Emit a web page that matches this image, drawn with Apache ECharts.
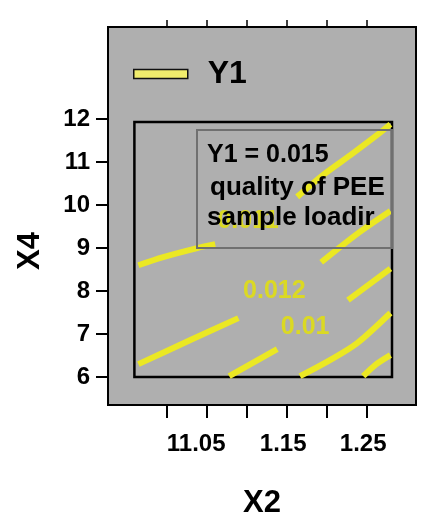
<!DOCTYPE html>
<html>
<head>
<meta charset="utf-8">
<script src="https://cdn.jsdelivr.net/npm/echarts@6/dist/echarts.min.js"></script>
<style>
  html, body { margin: 0; padding: 0; background: #fff; }
  #chart { width: 433px; height: 516px; }
</style>
</head>
<body>
<div id="chart"></div>
<script>
// axis ticks / labels
const xTicks = [1.0, 1.05, 1.1, 1.15, 1.2, 1.25];
const xLabelValues = [1.05, 1.15, 1.25];
const xLabelText = ['11.05', '1.15', '1.25'];
const yTicks = [6, 7, 8, 9, 10, 11, 12];

// contour pieces, [X2, X4]
const contour011a = [[0.964, 8.60], [0.995, 8.79], [1.0375, 9.00], [1.06, 9.09]];
const contour011b = [[1.1625, 10.19], [1.195, 10.70], [1.229, 11.16], [1.2625, 11.63], [1.279, 11.88]];
const contour012a = [[0.964, 6.30], [1.029, 6.86], [1.089, 7.37]];
const contour012b = [[1.1925, 8.67], [1.2375, 9.33], [1.279, 9.86]];
const contour010a = [[1.0775, 6.02], [1.1375, 6.65]];
const contour010b = [[1.226, 7.79], [1.279, 8.52]];
const contour009 = [[1.166, 6.02], [1.204, 6.40], [1.2375, 6.79], [1.279, 7.49]];
const contour008 = [[1.245, 6.02], [1.26, 6.28], [1.279, 6.51]];

const contourLabels = [[1.101, 9.62, '0.011'], [1.134, 8.0, '0.012'], [1.1725, 7.16, '0.01']];

// design region (inner box) and full axis ranges
const regionX = [0.959, 1.281];
const regionY = [6, 11.93];
const xRange = [0.926, 1.311];
const yRange = [5.35, 14.14];

const annotationLines = ['Y1 = 0.015', 'quality of PEE', 'sample loadir'];

const FONT = "'Liberation Sans', Arial, sans-serif";
const YELLOW = '#ebe823';

const chart = echarts.init(document.getElementById('chart'));

const pieces = [contour011a, contour011b, contour012a, contour012b,
  contour010a, contour010b, contour009, contour008];

const lineSeries = pieces.map((d, i) => ({
  name: 'Y1',
  type: 'line',
  data: d,
  symbol: 'none',
  smooth: 0.3,
  silent: true,
  z: 3,
  lineStyle: { color: YELLOW, width: 6 },
  itemStyle: { color: YELLOW },
  markArea: i === 0 ? {
    silent: true,
    itemStyle: { color: 'rgba(0,0,0,0)', borderColor: '#000', borderWidth: 2.5 },
    data: [[{ xAxis: regionX[0], yAxis: regionY[0] }, { xAxis: regionX[1], yAxis: regionY[1] }]]
  } : undefined
}));

const axisLineStyle = { show: true, lineStyle: { color: '#000', width: 2 } };

chart.setOption({
  animation: false,
  textStyle: { fontFamily: FONT },
  grid: {
    left: 108, top: 27, right: 17, bottom: 111,
    outerBoundsMode: 'none',
    containLabel: false,
    show: true,
    backgroundColor: '#afafaf',
    borderColor: '#000',
    borderWidth: 2
  },
  legend: {
    data: ['Y1'],
    left: 133,
    top: 58,
    padding: 0,
    icon: 'rect',
    itemWidth: 54,
    itemHeight: 9,
    itemStyle: { color: '#f0ec6c', borderColor: '#111', borderWidth: 1.5 },
    lineStyle: { width: 0 },
    textStyle: { fontSize: 32, fontWeight: 'bold', color: '#000', padding: [0, 0, 0, 15] }
  },
  xAxis: [
    {
      type: 'value',
      min: xRange[0],
      max: xRange[1],
      name: 'X2',
      nameLocation: 'middle',
      nameGap: 83,
      nameTextStyle: { fontSize: 31, fontWeight: 'bold', color: '#000' },
      axisLine: axisLineStyle,
      axisTick: { show: true, inside: false, length: 13, customValues: xTicks, lineStyle: { color: '#000', width: 2 } },
      axisLabel: {
        customValues: xLabelValues,
        formatter: v => {
          const i = xLabelValues.findIndex(x => Math.abs(x - v) < 1e-6);
          if (i < 0) return '';
          return i === 0 ? '{w|' + xLabelText[i] + '}' : xLabelText[i];
        },
        rich: { w: { fontSize: 24, fontWeight: 'bold', color: '#000', padding: [0, 14, 0, 0] } },
        fontSize: 24, fontWeight: 'bold', color: '#000', margin: 27,
        padding: [0, 8, 0, 0]
      },
      splitLine: { show: false }
    },
    {
      type: 'value',
      position: 'top',
      min: xRange[0],
      max: xRange[1],
      axisLine: axisLineStyle,
      axisTick: { show: true, length: 7, customValues: xTicks, lineStyle: { color: '#000', width: 1.5 } },
      axisLabel: { show: false },
      splitLine: { show: false }
    }
  ],
  yAxis: {
    type: 'value',
    min: yRange[0],
    max: yRange[1],
    name: 'X4',
    nameLocation: 'middle',
    nameGap: 62,
    nameRotate: 90,
    nameTextStyle: { fontSize: 31, fontWeight: 'bold', color: '#000', padding: [0, 70, 0, 0] },
    axisLine: axisLineStyle,
    axisTick: { show: true, length: 12, customValues: yTicks, lineStyle: { color: '#000', width: 2 } },
    axisLabel: { customValues: yTicks, fontSize: 24, fontWeight: 'bold', color: '#000', margin: 18 },
    splitLine: { show: false }
  },
  series: lineSeries.concat([{
    type: 'scatter',
    data: contourLabels,
    symbolSize: 0,
    silent: true,
    z: 4,
    label: {
      show: true,
      position: 'inside',
      formatter: p => p.data[2],
      fontSize: 25,
      fontWeight: 'bold',
      color: '#e6e400'
    }
  }]),
  graphic: [
    {
      type: 'rect',
      z: 100,
      shape: { x: 197, y: 130, width: 195, height: 118 },
      style: { fill: 'rgba(0,0,0,0)', stroke: '#707070', lineWidth: 2 }
    }
  ].concat(annotationLines.map((t, i) => ({
    type: 'text',
    z: 101,
    left: [207, 210, 207][i],
    top: [143, 175, 205][i],
    style: { text: t, fill: '#000', font: 'bold ' + [25, 26, 26][i] + 'px ' + FONT }
  })))
});
</script>
</body>
</html>
